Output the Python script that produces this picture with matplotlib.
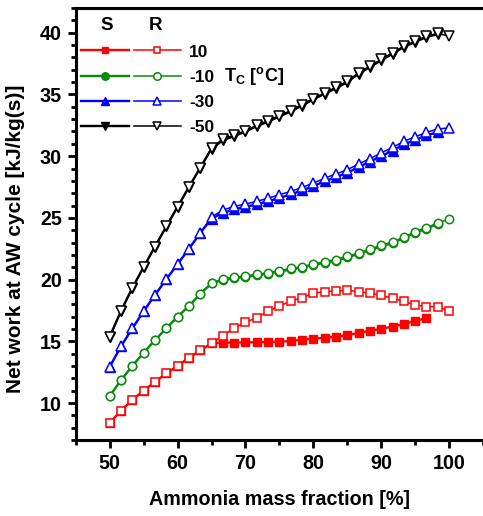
import matplotlib
matplotlib.use("Agg")
import matplotlib.pyplot as plt
from matplotlib.ticker import MultipleLocator
from matplotlib.legend_handler import HandlerTuple

plt.rcParams['font.family'] = ['Liberation Sans', 'DejaVu Sans']
plt.rcParams['font.weight'] = 'bold'
plt.rcParams['mathtext.default'] = 'regular'

# Ammonia mass fraction [%]
x = [50.0, 51.67, 53.33, 55.0, 56.67, 58.33, 60.0, 61.67, 63.33, 65.0,
     66.67, 68.33, 70.0, 71.67, 73.33, 75.0, 76.67, 78.33, 80.0, 81.67,
     83.33, 85.0, 86.67, 88.33, 90.0, 91.67, 93.33, 95.0, 96.67, 98.33, 100.0]

labels = ['10', '-10', '-30', '-50']

# Tc = 10
red_R = [8.4, 9.4, 10.26, 11.02, 11.72, 12.4, 13.02, 13.67, 14.27, 14.84,
         15.46, 16.08, 16.54, 16.92, 17.44, 17.87, 18.25, 18.54, 18.9, 19.03,
         19.08, 19.14, 19.03, 18.9, 18.73, 18.49, 18.25, 17.95, 17.81, 17.81, 17.46]
red_S = [8.4, 9.4, 10.26, 11.02, 11.72, 12.4, 13.02, 13.67, 14.27, 14.84,
         14.89, 14.9, 14.92, 14.93, 14.95, 14.97, 15.03, 15.13, 15.21, 15.29,
         15.37, 15.51, 15.67, 15.86, 16.02, 16.19, 16.41, 16.65, 16.89]
# Tc = -10
green_R = [10.59, 11.86, 13.02, 14.08, 15.11, 16.05, 17.0, 17.87, 18.84, 19.74,
           20.05, 20.2, 20.3, 20.43, 20.57, 20.72, 20.91, 21.06, 21.26, 21.45,
           21.62, 21.9, 22.15, 22.48, 22.78, 23.05, 23.45, 23.87, 24.22, 24.58, 24.9]
green_S = [10.59, 11.86, 13.02, 14.08, 15.11, 16.05, 17.0, 17.87, 18.84, 19.7,
           19.97, 20.12, 20.22, 20.35, 20.49, 20.64, 20.83, 20.98, 21.18, 21.37,
           21.54, 21.82, 22.07, 22.4, 22.7, 22.97, 23.37, 23.79, 24.14, 24.5]
# Tc = -30
blue_R = [12.94, 14.62, 16.05, 17.45, 18.76, 20.03, 21.26, 22.5, 23.77, 25.08,
          25.63, 25.93, 26.12, 26.34, 26.6, 26.88, 27.14, 27.47, 27.82, 28.22,
          28.55, 28.9, 29.37, 29.8, 30.26, 30.71, 31.2, 31.56, 31.93, 32.2, 32.29]
blue_S = [12.94, 14.62, 16.05, 17.45, 18.76, 20.03, 21.26, 22.5, 23.77, 24.95,
          25.4, 25.7, 25.9, 26.1, 26.35, 26.62, 26.9, 27.22, 27.57, 27.97,
          28.3, 28.65, 29.12, 29.55, 30.0, 30.45, 30.95, 31.3, 31.68, 31.95]
# Tc = -50
black_R = [15.38, 17.48, 19.33, 21.03, 22.68, 24.31, 25.9, 27.5, 29.06, 30.67,
           31.4, 31.69, 32.07, 32.5, 32.88, 33.29, 33.69, 34.18, 34.67, 35.13,
           35.58, 36.07, 36.75, 37.29, 37.83, 38.38, 38.91, 39.32, 39.72, 39.94, 39.72]
black_S = [15.38, 17.48, 19.33, 21.03, 22.68, 24.31, 25.9, 27.5, 29.06, 30.6,
           31.3, 31.62, 32.0, 32.43, 32.8, 33.22, 33.62, 34.1, 34.6, 35.06,
           35.5, 36.0, 36.68, 37.22, 37.76, 38.3, 38.84, 39.25, 39.65, 39.88]

series = [
    (red_S, red_R, '#ff0000', 's', 5.5),
    (green_S, green_R, '#0a8a0a', 'o', 6.0),
    (blue_S, blue_R, '#0000ff', '^', 6.9),
    (black_S, black_R, '#000000', 'v', 6.9),
]

fig = plt.figure(figsize=(4.83, 5.16), dpi=100)
ax = fig.add_axes([0.157, 0.147, 0.843, 0.8375])

handles = []
for s, r, c, m, ms in series:
    hs, = ax.plot(x[:len(s)], s, color=c, marker=m, ms=ms, mfc=c, mec=c,
                  lw=1.7, mew=1.0)
    hr, = ax.plot(x[:len(r)], r, color=c, marker=m, ms=ms, mfc='white', mec=c,
                  lw=1.1, mew=1.1)
    handles.append((hs, hr))

ax.set_xlim(45, 105)
ax.set_ylim(7, 42)
ax.xaxis.set_major_locator(MultipleLocator(10))
ax.xaxis.set_minor_locator(MultipleLocator(5))
ax.yaxis.set_major_locator(MultipleLocator(5))
ax.yaxis.set_minor_locator(MultipleLocator(1))
ax.tick_params(which='major', direction='out', length=6, width=2, labelsize=14.2, pad=4)
ax.tick_params(which='minor', direction='out', length=3.5, width=2)
ax.spines['right'].set_visible(False)
for sp in ['left', 'bottom', 'top']:
    ax.spines[sp].set_linewidth(2.2)

ax.set_xlabel('Ammonia mass fraction [%]', fontsize=14.2, fontweight='bold', labelpad=12)
ax.set_ylabel('Net work at AW cycle [kJ/kg(s)]', fontsize=15, fontweight='bold')
ax.yaxis.set_label_coords(-0.125, 0.465)

leg = ax.legend(handles, labels,
                handler_map={tuple: HandlerTuple(ndivide=None, pad=0.3)},
                handlelength=5.75, handletextpad=0.45, labelspacing=0.58,
                loc='upper left', bbox_to_anchor=(-0.025, 0.952), frameon=False,
                prop={'weight': 'bold', 'size': 12.5}, markerscale=0.9)

ax.text(0.077, 0.96, 'S', transform=ax.transAxes, fontsize=13.5, fontweight='bold',
        ha='center', va='center')
ax.text(0.195, 0.96, 'R', transform=ax.transAxes, fontsize=13.5, fontweight='bold',
        ha='center', va='center')
ax.text(0.365, 0.843, r'T$_\mathregular{C}$ [$^\mathregular{o}$C]', transform=ax.transAxes,
        fontsize=13, fontweight='bold', ha='left', va='center')

fig.savefig('out.png', dpi=100)
